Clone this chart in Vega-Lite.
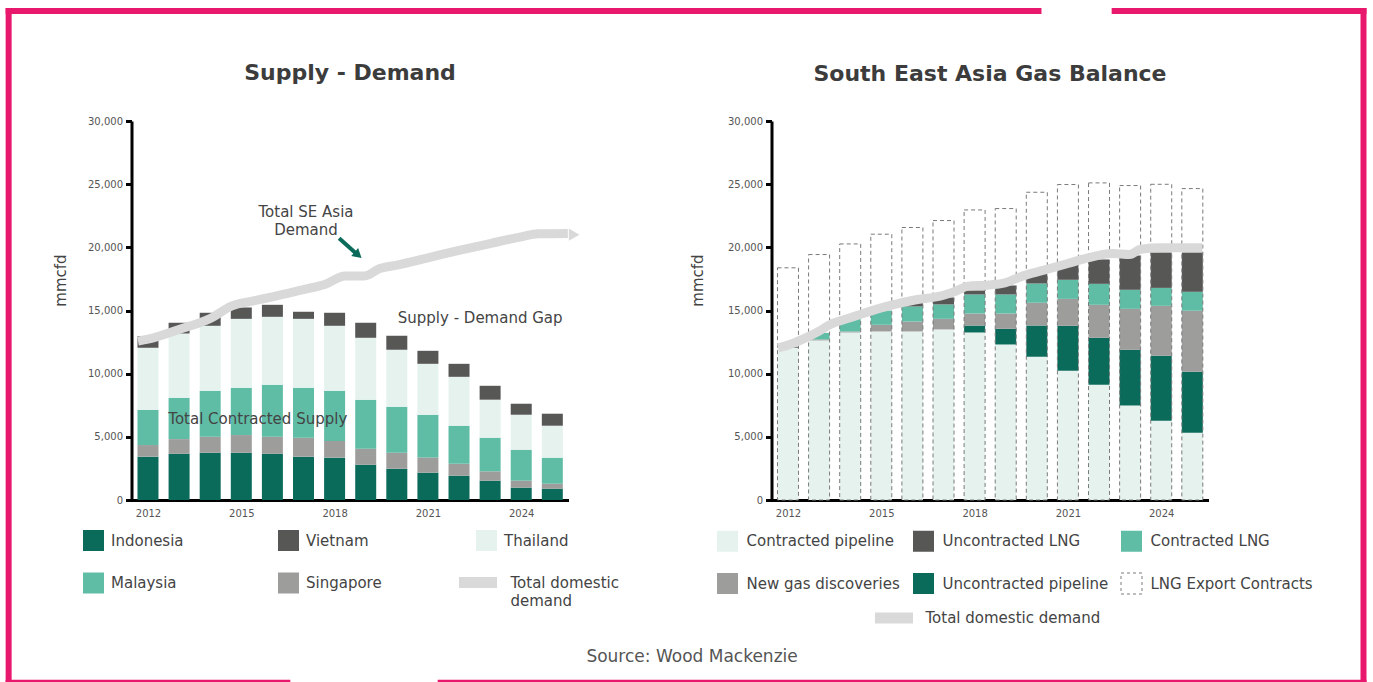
{
  "$schema": "https://vega.github.io/schema/vega-lite/v6.json",
  "background": "white",
  "padding": {"left": 3.5, "top": 6, "right": 4, "bottom": 0},
  "config": {
    "font": "DejaVu Sans",
    "view": {"stroke": null},
    "axis": {"grid": false, "domainColor": "#000000", "domainWidth": 3, "tickColor": "#000000", "tickWidth": 3, "tickSize": 6, "labelColor": "#555555", "labelFontSize": 10, "labelFont": "DejaVu Sans", "titleColor": "#444444", "titleFontSize": 15, "titleFontWeight": "normal", "titleFont": "DejaVu Sans"},
    "title": {"font": "DejaVu Sans", "fontSize": 22, "fontWeight": "bold", "color": "#3c3c3c"},
    "legend": {"labelFontSize": 15, "labelColor": "#444444", "labelFont": "DejaVu Sans", "padding": 0, "labelLimit": 300}
  },
  "datasets": {
    "frame": [
      {"yr": 2007.52, "yr2": 2040.63, "v": 38710, "v2": 38710},
      {"yr": 2043.08, "yr2": 2051.08, "v": 38710, "v2": 38710},
      {"yr": 2007.52, "yr2": 2016.48, "v": -14460, "v2": -14460},
      {"yr": 2021.41, "yr2": 2051.08, "v": -14460, "v2": -14460},
      {"yr": 2007.52, "yr2": 2007.52, "v": 38710, "v2": -14460},
      {"yr": 2051.08, "yr2": 2051.08, "v": 38710, "v2": -14460}
    ],
    "left": [
      {"yr": 2012, "s": "Indonesia", "v": 3430, "o": 1}, {"yr": 2012, "s": "Singapore", "v": 920, "o": 2}, {"yr": 2012, "s": "Malaysia", "v": 2790, "o": 3}, {"yr": 2012, "s": "Thailand", "v": 4910, "o": 4}, {"yr": 2012, "s": "Vietnam", "v": 920, "o": 5},
      {"yr": 2013, "s": "Indonesia", "v": 3660, "o": 1}, {"yr": 2013, "s": "Singapore", "v": 1160, "o": 2}, {"yr": 2013, "s": "Malaysia", "v": 3270, "o": 3}, {"yr": 2013, "s": "Thailand", "v": 5090, "o": 4}, {"yr": 2013, "s": "Vietnam", "v": 850, "o": 5},
      {"yr": 2014, "s": "Indonesia", "v": 3740, "o": 1}, {"yr": 2014, "s": "Singapore", "v": 1270, "o": 2}, {"yr": 2014, "s": "Malaysia", "v": 3640, "o": 3}, {"yr": 2014, "s": "Thailand", "v": 5140, "o": 4}, {"yr": 2014, "s": "Vietnam", "v": 1030, "o": 5},
      {"yr": 2015, "s": "Indonesia", "v": 3740, "o": 1}, {"yr": 2015, "s": "Singapore", "v": 1400, "o": 2}, {"yr": 2015, "s": "Malaysia", "v": 3740, "o": 3}, {"yr": 2015, "s": "Thailand", "v": 5460, "o": 4}, {"yr": 2015, "s": "Vietnam", "v": 900, "o": 5},
      {"yr": 2016, "s": "Indonesia", "v": 3660, "o": 1}, {"yr": 2016, "s": "Singapore", "v": 1350, "o": 2}, {"yr": 2016, "s": "Malaysia", "v": 4110, "o": 3}, {"yr": 2016, "s": "Thailand", "v": 5380, "o": 4}, {"yr": 2016, "s": "Vietnam", "v": 950, "o": 5},
      {"yr": 2017, "s": "Indonesia", "v": 3430, "o": 1}, {"yr": 2017, "s": "Singapore", "v": 1500, "o": 2}, {"yr": 2017, "s": "Malaysia", "v": 3950, "o": 3}, {"yr": 2017, "s": "Thailand", "v": 5460, "o": 4}, {"yr": 2017, "s": "Vietnam", "v": 560, "o": 5},
      {"yr": 2018, "s": "Indonesia", "v": 3350, "o": 1}, {"yr": 2018, "s": "Singapore", "v": 1320, "o": 2}, {"yr": 2018, "s": "Malaysia", "v": 3980, "o": 3}, {"yr": 2018, "s": "Thailand", "v": 5140, "o": 4}, {"yr": 2018, "s": "Vietnam", "v": 1030, "o": 5},
      {"yr": 2019, "s": "Indonesia", "v": 2790, "o": 1}, {"yr": 2019, "s": "Singapore", "v": 1270, "o": 2}, {"yr": 2019, "s": "Malaysia", "v": 3880, "o": 3}, {"yr": 2019, "s": "Thailand", "v": 4900, "o": 4}, {"yr": 2019, "s": "Vietnam", "v": 1190, "o": 5},
      {"yr": 2020, "s": "Indonesia", "v": 2480, "o": 1}, {"yr": 2020, "s": "Singapore", "v": 1260, "o": 2}, {"yr": 2020, "s": "Malaysia", "v": 3640, "o": 3}, {"yr": 2020, "s": "Thailand", "v": 4510, "o": 4}, {"yr": 2020, "s": "Vietnam", "v": 1110, "o": 5},
      {"yr": 2021, "s": "Indonesia", "v": 2160, "o": 1}, {"yr": 2021, "s": "Singapore", "v": 1210, "o": 2}, {"yr": 2021, "s": "Malaysia", "v": 3380, "o": 3}, {"yr": 2021, "s": "Thailand", "v": 4030, "o": 4}, {"yr": 2021, "s": "Vietnam", "v": 1030, "o": 5},
      {"yr": 2022, "s": "Indonesia", "v": 1920, "o": 1}, {"yr": 2022, "s": "Singapore", "v": 950, "o": 2}, {"yr": 2022, "s": "Malaysia", "v": 3010, "o": 3}, {"yr": 2022, "s": "Thailand", "v": 3870, "o": 4}, {"yr": 2022, "s": "Vietnam", "v": 1030, "o": 5},
      {"yr": 2023, "s": "Indonesia", "v": 1530, "o": 1}, {"yr": 2023, "s": "Singapore", "v": 740, "o": 2}, {"yr": 2023, "s": "Malaysia", "v": 2660, "o": 3}, {"yr": 2023, "s": "Thailand", "v": 3010, "o": 4}, {"yr": 2023, "s": "Vietnam", "v": 1100, "o": 5},
      {"yr": 2024, "s": "Indonesia", "v": 980, "o": 1}, {"yr": 2024, "s": "Singapore", "v": 550, "o": 2}, {"yr": 2024, "s": "Malaysia", "v": 2450, "o": 3}, {"yr": 2024, "s": "Thailand", "v": 2770, "o": 4}, {"yr": 2024, "s": "Vietnam", "v": 870, "o": 5},
      {"yr": 2025, "s": "Indonesia", "v": 900, "o": 1}, {"yr": 2025, "s": "Singapore", "v": 390, "o": 2}, {"yr": 2025, "s": "Malaysia", "v": 2060, "o": 3}, {"yr": 2025, "s": "Thailand", "v": 2530, "o": 4}, {"yr": 2025, "s": "Vietnam", "v": 950, "o": 5}
    ],
    "ldem": [
      {"yr": 2011.68, "v": 12580}, {"yr": 2012, "v": 12730}, {"yr": 2013, "v": 13500}, {"yr": 2014, "v": 14370}, {"yr": 2014.7, "v": 15370},
      {"yr": 2015.35, "v": 15740}, {"yr": 2016, "v": 16080}, {"yr": 2017, "v": 16660}, {"yr": 2017.68, "v": 17060}, {"yr": 2018.34, "v": 17740},
      {"yr": 2018.96, "v": 17740}, {"yr": 2019.45, "v": 18320}, {"yr": 2020, "v": 18590}, {"yr": 2021, "v": 19170}, {"yr": 2022, "v": 19750},
      {"yr": 2023, "v": 20300}, {"yr": 2024, "v": 20830}, {"yr": 2024.54, "v": 21070}, {"yr": 2025.5, "v": 21100}
    ],
    "ltip": [{"yr": 2025.7, "v": 21000}],
    "lnotes": [
      {"yr": 2017.08, "v": 22820, "t": "Total SE Asia\nDemand"},
      {"yr": 2022.68, "v": 14430, "t": "Supply - Demand Gap"},
      {"yr": 2015.53, "v": 6380, "t": "Total Contracted Supply"}
    ],
    "arrow": [{"yr": 2018.145, "v": 20710, "yr2": 2018.72, "v2": 19450}],
    "arrowhead": [{"yr": 2018.756, "v": 19390}],
    "right": [
      {"yr": 2012, "s": "Contracted pipeline", "v": 12050, "o": 1}, {"yr": 2012, "s": "Uncontracted pipeline", "v": 0, "o": 2}, {"yr": 2012, "s": "New gas discoveries", "v": 0, "o": 3}, {"yr": 2012, "s": "Contracted LNG", "v": 0, "o": 4}, {"yr": 2012, "s": "Uncontracted LNG", "v": 80, "o": 5},
      {"yr": 2013, "s": "Contracted pipeline", "v": 12630, "o": 1}, {"yr": 2013, "s": "Uncontracted pipeline", "v": 0, "o": 2}, {"yr": 2013, "s": "New gas discoveries", "v": 80, "o": 3}, {"yr": 2013, "s": "Contracted LNG", "v": 520, "o": 4}, {"yr": 2013, "s": "Uncontracted LNG", "v": 0, "o": 5},
      {"yr": 2014, "s": "Contracted pipeline", "v": 13260, "o": 1}, {"yr": 2014, "s": "Uncontracted pipeline", "v": 0, "o": 2}, {"yr": 2014, "s": "New gas discoveries", "v": 80, "o": 3}, {"yr": 2014, "s": "Contracted LNG", "v": 980, "o": 4}, {"yr": 2014, "s": "Uncontracted LNG", "v": 0, "o": 5},
      {"yr": 2015, "s": "Contracted pipeline", "v": 13340, "o": 1}, {"yr": 2015, "s": "Uncontracted pipeline", "v": 0, "o": 2}, {"yr": 2015, "s": "New gas discoveries", "v": 530, "o": 3}, {"yr": 2015, "s": "Contracted LNG", "v": 1130, "o": 4}, {"yr": 2015, "s": "Uncontracted LNG", "v": 0, "o": 5},
      {"yr": 2016, "s": "Contracted pipeline", "v": 13340, "o": 1}, {"yr": 2016, "s": "Uncontracted pipeline", "v": 0, "o": 2}, {"yr": 2016, "s": "New gas discoveries", "v": 790, "o": 3}, {"yr": 2016, "s": "Contracted LNG", "v": 1190, "o": 4}, {"yr": 2016, "s": "Uncontracted LNG", "v": 290, "o": 5},
      {"yr": 2017, "s": "Contracted pipeline", "v": 13500, "o": 1}, {"yr": 2017, "s": "Uncontracted pipeline", "v": 0, "o": 2}, {"yr": 2017, "s": "New gas discoveries", "v": 840, "o": 3}, {"yr": 2017, "s": "Contracted LNG", "v": 1140, "o": 4}, {"yr": 2017, "s": "Uncontracted LNG", "v": 550, "o": 5},
      {"yr": 2018, "s": "Contracted pipeline", "v": 13260, "o": 1}, {"yr": 2018, "s": "Uncontracted pipeline", "v": 550, "o": 2}, {"yr": 2018, "s": "New gas discoveries", "v": 950, "o": 3}, {"yr": 2018, "s": "Contracted LNG", "v": 1510, "o": 4}, {"yr": 2018, "s": "Uncontracted LNG", "v": 310, "o": 5},
      {"yr": 2019, "s": "Contracted pipeline", "v": 12310, "o": 1}, {"yr": 2019, "s": "Uncontracted pipeline", "v": 1240, "o": 2}, {"yr": 2019, "s": "New gas discoveries", "v": 1210, "o": 3}, {"yr": 2019, "s": "Contracted LNG", "v": 1510, "o": 4}, {"yr": 2019, "s": "Uncontracted LNG", "v": 710, "o": 5},
      {"yr": 2020, "s": "Contracted pipeline", "v": 11340, "o": 1}, {"yr": 2020, "s": "Uncontracted pipeline", "v": 2470, "o": 2}, {"yr": 2020, "s": "New gas discoveries", "v": 1800, "o": 3}, {"yr": 2020, "s": "Contracted LNG", "v": 1530, "o": 4}, {"yr": 2020, "s": "Uncontracted LNG", "v": 760, "o": 5},
      {"yr": 2021, "s": "Contracted pipeline", "v": 10230, "o": 1}, {"yr": 2021, "s": "Uncontracted pipeline", "v": 3560, "o": 2}, {"yr": 2021, "s": "New gas discoveries", "v": 2130, "o": 3}, {"yr": 2021, "s": "Contracted LNG", "v": 1510, "o": 4}, {"yr": 2021, "s": "Uncontracted LNG", "v": 1210, "o": 5},
      {"yr": 2022, "s": "Contracted pipeline", "v": 9120, "o": 1}, {"yr": 2022, "s": "Uncontracted pipeline", "v": 3720, "o": 2}, {"yr": 2022, "s": "New gas discoveries", "v": 2610, "o": 3}, {"yr": 2022, "s": "Contracted LNG", "v": 1660, "o": 4}, {"yr": 2022, "s": "Uncontracted LNG", "v": 1930, "o": 5},
      {"yr": 2023, "s": "Contracted pipeline", "v": 7490, "o": 1}, {"yr": 2023, "s": "Uncontracted pipeline", "v": 4400, "o": 2}, {"yr": 2023, "s": "New gas discoveries", "v": 3240, "o": 3}, {"yr": 2023, "s": "Contracted LNG", "v": 1510, "o": 4}, {"yr": 2023, "s": "Uncontracted LNG", "v": 2710, "o": 5},
      {"yr": 2024, "s": "Contracted pipeline", "v": 6270, "o": 1}, {"yr": 2024, "s": "Uncontracted pipeline", "v": 5150, "o": 2}, {"yr": 2024, "s": "New gas discoveries", "v": 3950, "o": 3}, {"yr": 2024, "s": "Contracted LNG", "v": 1420, "o": 4}, {"yr": 2024, "s": "Uncontracted LNG", "v": 2800, "o": 5},
      {"yr": 2025, "s": "Contracted pipeline", "v": 5330, "o": 1}, {"yr": 2025, "s": "Uncontracted pipeline", "v": 4820, "o": 2}, {"yr": 2025, "s": "New gas discoveries", "v": 4830, "o": 3}, {"yr": 2025, "s": "Contracted LNG", "v": 1500, "o": 4}, {"yr": 2025, "s": "Uncontracted LNG", "v": 3110, "o": 5}
    ],
    "rexp": [
      {"yr": 2012, "v": 18380}, {"yr": 2013, "v": 19430}, {"yr": 2014, "v": 20270}, {"yr": 2015, "v": 21040}, {"yr": 2016, "v": 21570},
      {"yr": 2017, "v": 22120}, {"yr": 2018, "v": 22960}, {"yr": 2019, "v": 23070}, {"yr": 2020, "v": 24360}, {"yr": 2021, "v": 24970},
      {"yr": 2022, "v": 25100}, {"yr": 2023, "v": 24890}, {"yr": 2024, "v": 24990}, {"yr": 2025, "v": 24650}
    ],
    "rdem": [
      {"yr": 2011.68, "v": 12050}, {"yr": 2012, "v": 12260}, {"yr": 2012.48, "v": 12730}, {"yr": 2013, "v": 13370}, {"yr": 2013.36, "v": 13890},
      {"yr": 2014, "v": 14420}, {"yr": 2015, "v": 15210}, {"yr": 2016, "v": 15790}, {"yr": 2017, "v": 16210}, {"yr": 2017.35, "v": 16480},
      {"yr": 2017.8, "v": 16930}, {"yr": 2018.34, "v": 17000}, {"yr": 2018.9, "v": 17140}, {"yr": 2019.56, "v": 17740}, {"yr": 2020.23, "v": 18190},
      {"yr": 2021, "v": 18720}, {"yr": 2021.67, "v": 19190}, {"yr": 2022.44, "v": 19510}, {"yr": 2022.99, "v": 19430}, {"yr": 2023.33, "v": 19850},
      {"yr": 2024, "v": 19960}, {"yr": 2025.32, "v": 19960}
    ]
  },
  "title": {"text": "Source: Wood Mackenzie", "orient": "bottom", "frame": "bounds", "anchor": "middle", "offset": -38, "dx": 6, "fontSize": 17, "fontWeight": "normal", "color": "#555555"},
  "spacing": 203,
  "bounds": "flush",
  "hconcat": [
    {
      "width": 437,
      "height": 379,
      "title": {"text": "Supply - Demand", "frame": "group", "anchor": "middle", "offset": -78},
      "layer": [
        {
          "data": {"name": "frame"},
          "mark": {"type": "rule", "color": "#e8186c", "strokeWidth": 6, "strokeCap": "square"},
          "encoding": {
            "x": {"field": "yr", "type": "quantitative", "scale": {"domain": [2011.47, 2025.52], "nice": false, "zero": false, "padding": 0},
                  "axis": {"values": [2012, 2015, 2018, 2021, 2024], "format": "d", "title": null, "ticks": false, "labelPadding": 8}},
            "x2": {"field": "yr2"},
            "y": {"field": "v", "type": "quantitative", "scale": {"domain": [0, 30000], "nice": false},
                  "axis": {"values": [0, 5000, 10000, 15000, 20000, 25000, 30000], "format": ",d", "title": "mmcfd", "titleX": -71, "titleY": 159, "titleBaseline": "middle", "labelPadding": 3}},
            "y2": {"field": "v2"}
          }
        },
        {
          "data": {"name": "left"},
          "mark": {"type": "bar", "size": 21},
          "encoding": {
            "x": {"field": "yr", "type": "quantitative", "scale": {"domain": [2011.47, 2025.52], "nice": false, "zero": false, "padding": 0},
                  "axis": {"values": [2012, 2015, 2018, 2021, 2024], "format": "d", "title": null, "ticks": false, "labelPadding": 8}},
            "y": {"field": "v", "type": "quantitative", "stack": "zero", "scale": {"domain": [0, 30000], "nice": false},
                  "axis": {"values": [0, 5000, 10000, 15000, 20000, 25000, 30000], "format": ",d", "title": "mmcfd", "titleX": -71, "titleY": 159, "titleBaseline": "middle", "labelPadding": 3}},
            "color": {"field": "s", "type": "nominal",
                      "scale": {"domain": ["Indonesia", "Vietnam", "Thailand", "Malaysia", "Singapore"], "range": ["#0b6b5b", "#575756", "#e5f2ee", "#5fbda6", "#9d9d9c"]},
                      "legend": {"title": null, "orient": "none", "legendX": -48.5, "legendY": 409, "columns": 3, "direction": "horizontal", "gridAlign": "each", "columnPadding": 94, "rowPadding": 21.5, "symbolType": "square", "symbolSize": 441, "symbolStrokeWidth": 0, "labelOffset": 7}},
            "order": {"field": "o", "type": "quantitative"}
          }
        },
        {
          "data": {"name": "ldem"},
          "mark": {"type": "line", "strokeWidth": 9, "interpolate": "monotone", "strokeCap": "butt"},
          "encoding": {
            "x": {"field": "yr", "type": "quantitative", "scale": {"domain": [2011.47, 2025.52], "nice": false, "zero": false, "padding": 0},
                  "axis": {"values": [2012, 2015, 2018, 2021, 2024], "format": "d", "title": null, "ticks": false, "labelPadding": 8}},
            "y": {"field": "v", "type": "quantitative", "scale": {"domain": [0, 30000], "nice": false},
                  "axis": {"values": [0, 5000, 10000, 15000, 20000, 25000, 30000], "format": ",d", "title": "mmcfd", "titleX": -71, "titleY": 159, "titleBaseline": "middle", "labelPadding": 3}},
            "stroke": {"datum": "Total domestic demand", "type": "nominal", "scale": {"domain": ["Total domestic demand"], "range": ["#d9d9d9"]},
                       "legend": {"title": null, "orient": "none", "legendX": 322, "legendY": 437, "symbolType": "stroke", "symbolSize": 1444, "symbolStrokeWidth": 11, "labelOffset": 8,
                                  "labelExpr": "['Total domestic', 'demand']", "encode": {"labels": {"update": {"lineHeight": {"value": 18}}}}}}
          }
        },
        {
          "data": {"name": "ltip"},
          "mark": {"type": "point", "shape": "triangle-right", "size": 150, "filled": true, "color": "#d9d9d9", "opacity": 1},
          "encoding": {
            "x": {"field": "yr", "type": "quantitative", "scale": {"domain": [2011.47, 2025.52], "nice": false, "zero": false, "padding": 0},
                  "axis": {"values": [2012, 2015, 2018, 2021, 2024], "format": "d", "title": null, "ticks": false, "labelPadding": 8}},
            "y": {"field": "v", "type": "quantitative", "scale": {"domain": [0, 30000], "nice": false},
                  "axis": {"values": [0, 5000, 10000, 15000, 20000, 25000, 30000], "format": ",d", "title": "mmcfd", "titleX": -71, "titleY": 159, "titleBaseline": "middle", "labelPadding": 3}}
          }
        },
        {
          "data": {"name": "lnotes"},
          "mark": {"type": "text", "fontSize": 15, "color": "#444444", "align": "center", "baseline": "middle", "font": "DejaVu Sans", "lineBreak": "\n", "lineHeight": 18},
          "encoding": {
            "x": {"field": "yr", "type": "quantitative", "scale": {"domain": [2011.47, 2025.52], "nice": false, "zero": false, "padding": 0},
                  "axis": {"values": [2012, 2015, 2018, 2021, 2024], "format": "d", "title": null, "ticks": false, "labelPadding": 8}},
            "y": {"field": "v", "type": "quantitative", "scale": {"domain": [0, 30000], "nice": false},
                  "axis": {"values": [0, 5000, 10000, 15000, 20000, 25000, 30000], "format": ",d", "title": "mmcfd", "titleX": -71, "titleY": 159, "titleBaseline": "middle", "labelPadding": 3}},
            "text": {"field": "t"}
          }
        },
        {
          "data": {"name": "arrow"},
          "mark": {"type": "rule", "color": "#0b6b5b", "strokeWidth": 4},
          "encoding": {
            "x": {"field": "yr", "type": "quantitative", "scale": {"domain": [2011.47, 2025.52], "nice": false, "zero": false, "padding": 0},
                  "axis": {"values": [2012, 2015, 2018, 2021, 2024], "format": "d", "title": null, "ticks": false, "labelPadding": 8}},
            "x2": {"field": "yr2"},
            "y": {"field": "v", "type": "quantitative", "scale": {"domain": [0, 30000], "nice": false},
                  "axis": {"values": [0, 5000, 10000, 15000, 20000, 25000, 30000], "format": ",d", "title": "mmcfd", "titleX": -71, "titleY": 159, "titleBaseline": "middle", "labelPadding": 3}},
            "y2": {"field": "v2"}
          }
        },
        {
          "data": {"name": "arrowhead"},
          "mark": {"type": "point", "shape": "triangle-down", "size": 110, "filled": true, "color": "#0b6b5b", "opacity": 1, "angle": 311},
          "encoding": {
            "x": {"field": "yr", "type": "quantitative", "scale": {"domain": [2011.47, 2025.52], "nice": false, "zero": false, "padding": 0},
                  "axis": {"values": [2012, 2015, 2018, 2021, 2024], "format": "d", "title": null, "ticks": false, "labelPadding": 8}},
            "y": {"field": "v", "type": "quantitative", "scale": {"domain": [0, 30000], "nice": false},
                  "axis": {"values": [0, 5000, 10000, 15000, 20000, 25000, 30000], "format": ",d", "title": "mmcfd", "titleX": -71, "titleY": 159, "titleBaseline": "middle", "labelPadding": 3}}
          }
        }
      ],
      "resolve": {"scale": {"color": "independent", "stroke": "independent"}}
    },
    {
      "width": 437,
      "height": 379,
      "title": {"text": "South East Asia Gas Balance", "frame": "group", "anchor": "middle", "offset": 30},
      "layer": [
        {
          "data": {"name": "right"},
          "mark": {"type": "bar", "size": 21},
          "encoding": {
            "x": {"field": "yr", "type": "quantitative", "scale": {"domain": [2011.47, 2025.52], "nice": false, "zero": false, "padding": 0},
                  "axis": {"values": [2012, 2015, 2018, 2021, 2024], "format": "d", "title": null, "ticks": false, "labelPadding": 8}},
            "y": {"field": "v", "type": "quantitative", "stack": "zero", "scale": {"domain": [0, 30000], "nice": false},
                  "axis": {"values": [0, 5000, 10000, 15000, 20000, 25000, 30000], "format": ",d", "title": "mmcfd", "titleX": -74, "titleY": 159, "titleBaseline": "middle", "labelPadding": 3}},
            "color": {"field": "s", "type": "nominal",
                      "scale": {"domain": ["Contracted pipeline", "Uncontracted LNG", "Contracted LNG", "New gas discoveries", "Uncontracted pipeline", "LNG Export Contracts"], "range": ["#e5f2ee", "#575756", "#5fbda6", "#9d9d9c", "#0b6b5b", "#ffffff"]},
                      "legend": {"title": null, "orient": "none", "legendX": -55, "legendY": 409, "columns": 3, "direction": "horizontal", "gridAlign": "each", "columnPadding": 10, "rowPadding": 16.5, "symbolType": "square", "symbolSize": 441, "symbolStrokeWidth": 1, "labelOffset": 8,
                                 "encode": {"symbols": {"update": {
                                   "stroke": {"signal": "datum.value === 'LNG Export Contracts' ? '#7a7a7a' : 'transparent'"},
                                   "strokeDash": {"signal": "datum.value === 'LNG Export Contracts' ? [3, 3] : []"}
                                 }}}}},
            "order": {"field": "o", "type": "quantitative"}
          }
        },
        {
          "data": {"name": "rexp"},
          "mark": {"type": "bar", "size": 21, "fillOpacity": 0, "stroke": "#7a7a7a", "strokeWidth": 1, "strokeDash": [4, 3]},
          "encoding": {
            "x": {"field": "yr", "type": "quantitative", "scale": {"domain": [2011.47, 2025.52], "nice": false, "zero": false, "padding": 0},
                  "axis": {"values": [2012, 2015, 2018, 2021, 2024], "format": "d", "title": null, "ticks": false, "labelPadding": 8}},
            "y": {"field": "v", "type": "quantitative", "stack": null, "scale": {"domain": [0, 30000], "nice": false},
                  "axis": {"values": [0, 5000, 10000, 15000, 20000, 25000, 30000], "format": ",d", "title": "mmcfd", "titleX": -74, "titleY": 159, "titleBaseline": "middle", "labelPadding": 3}}
          }
        },
        {
          "data": {"name": "rdem"},
          "mark": {"type": "line", "strokeWidth": 9, "interpolate": "monotone", "strokeCap": "butt"},
          "encoding": {
            "x": {"field": "yr", "type": "quantitative", "scale": {"domain": [2011.47, 2025.52], "nice": false, "zero": false, "padding": 0},
                  "axis": {"values": [2012, 2015, 2018, 2021, 2024], "format": "d", "title": null, "ticks": false, "labelPadding": 8}},
            "y": {"field": "v", "type": "quantitative", "scale": {"domain": [0, 30000], "nice": false},
                  "axis": {"values": [0, 5000, 10000, 15000, 20000, 25000, 30000], "format": ",d", "title": "mmcfd", "titleX": -74, "titleY": 159, "titleBaseline": "middle", "labelPadding": 3}},
            "stroke": {"datum": "Total domestic demand", "type": "nominal", "scale": {"domain": ["Total domestic demand"], "range": ["#d9d9d9"]},
                       "legend": {"title": null, "orient": "none", "legendX": 98, "legendY": 472.5, "symbolType": "stroke", "symbolSize": 1444, "symbolStrokeWidth": 11, "labelOffset": 7}}
          }
        }
      ],
      "resolve": {"scale": {"color": "independent", "stroke": "independent"}}
    }
  ],
  "resolve": {"scale": {"color": "independent", "stroke": "independent", "x": "independent", "y": "independent"}}
}
